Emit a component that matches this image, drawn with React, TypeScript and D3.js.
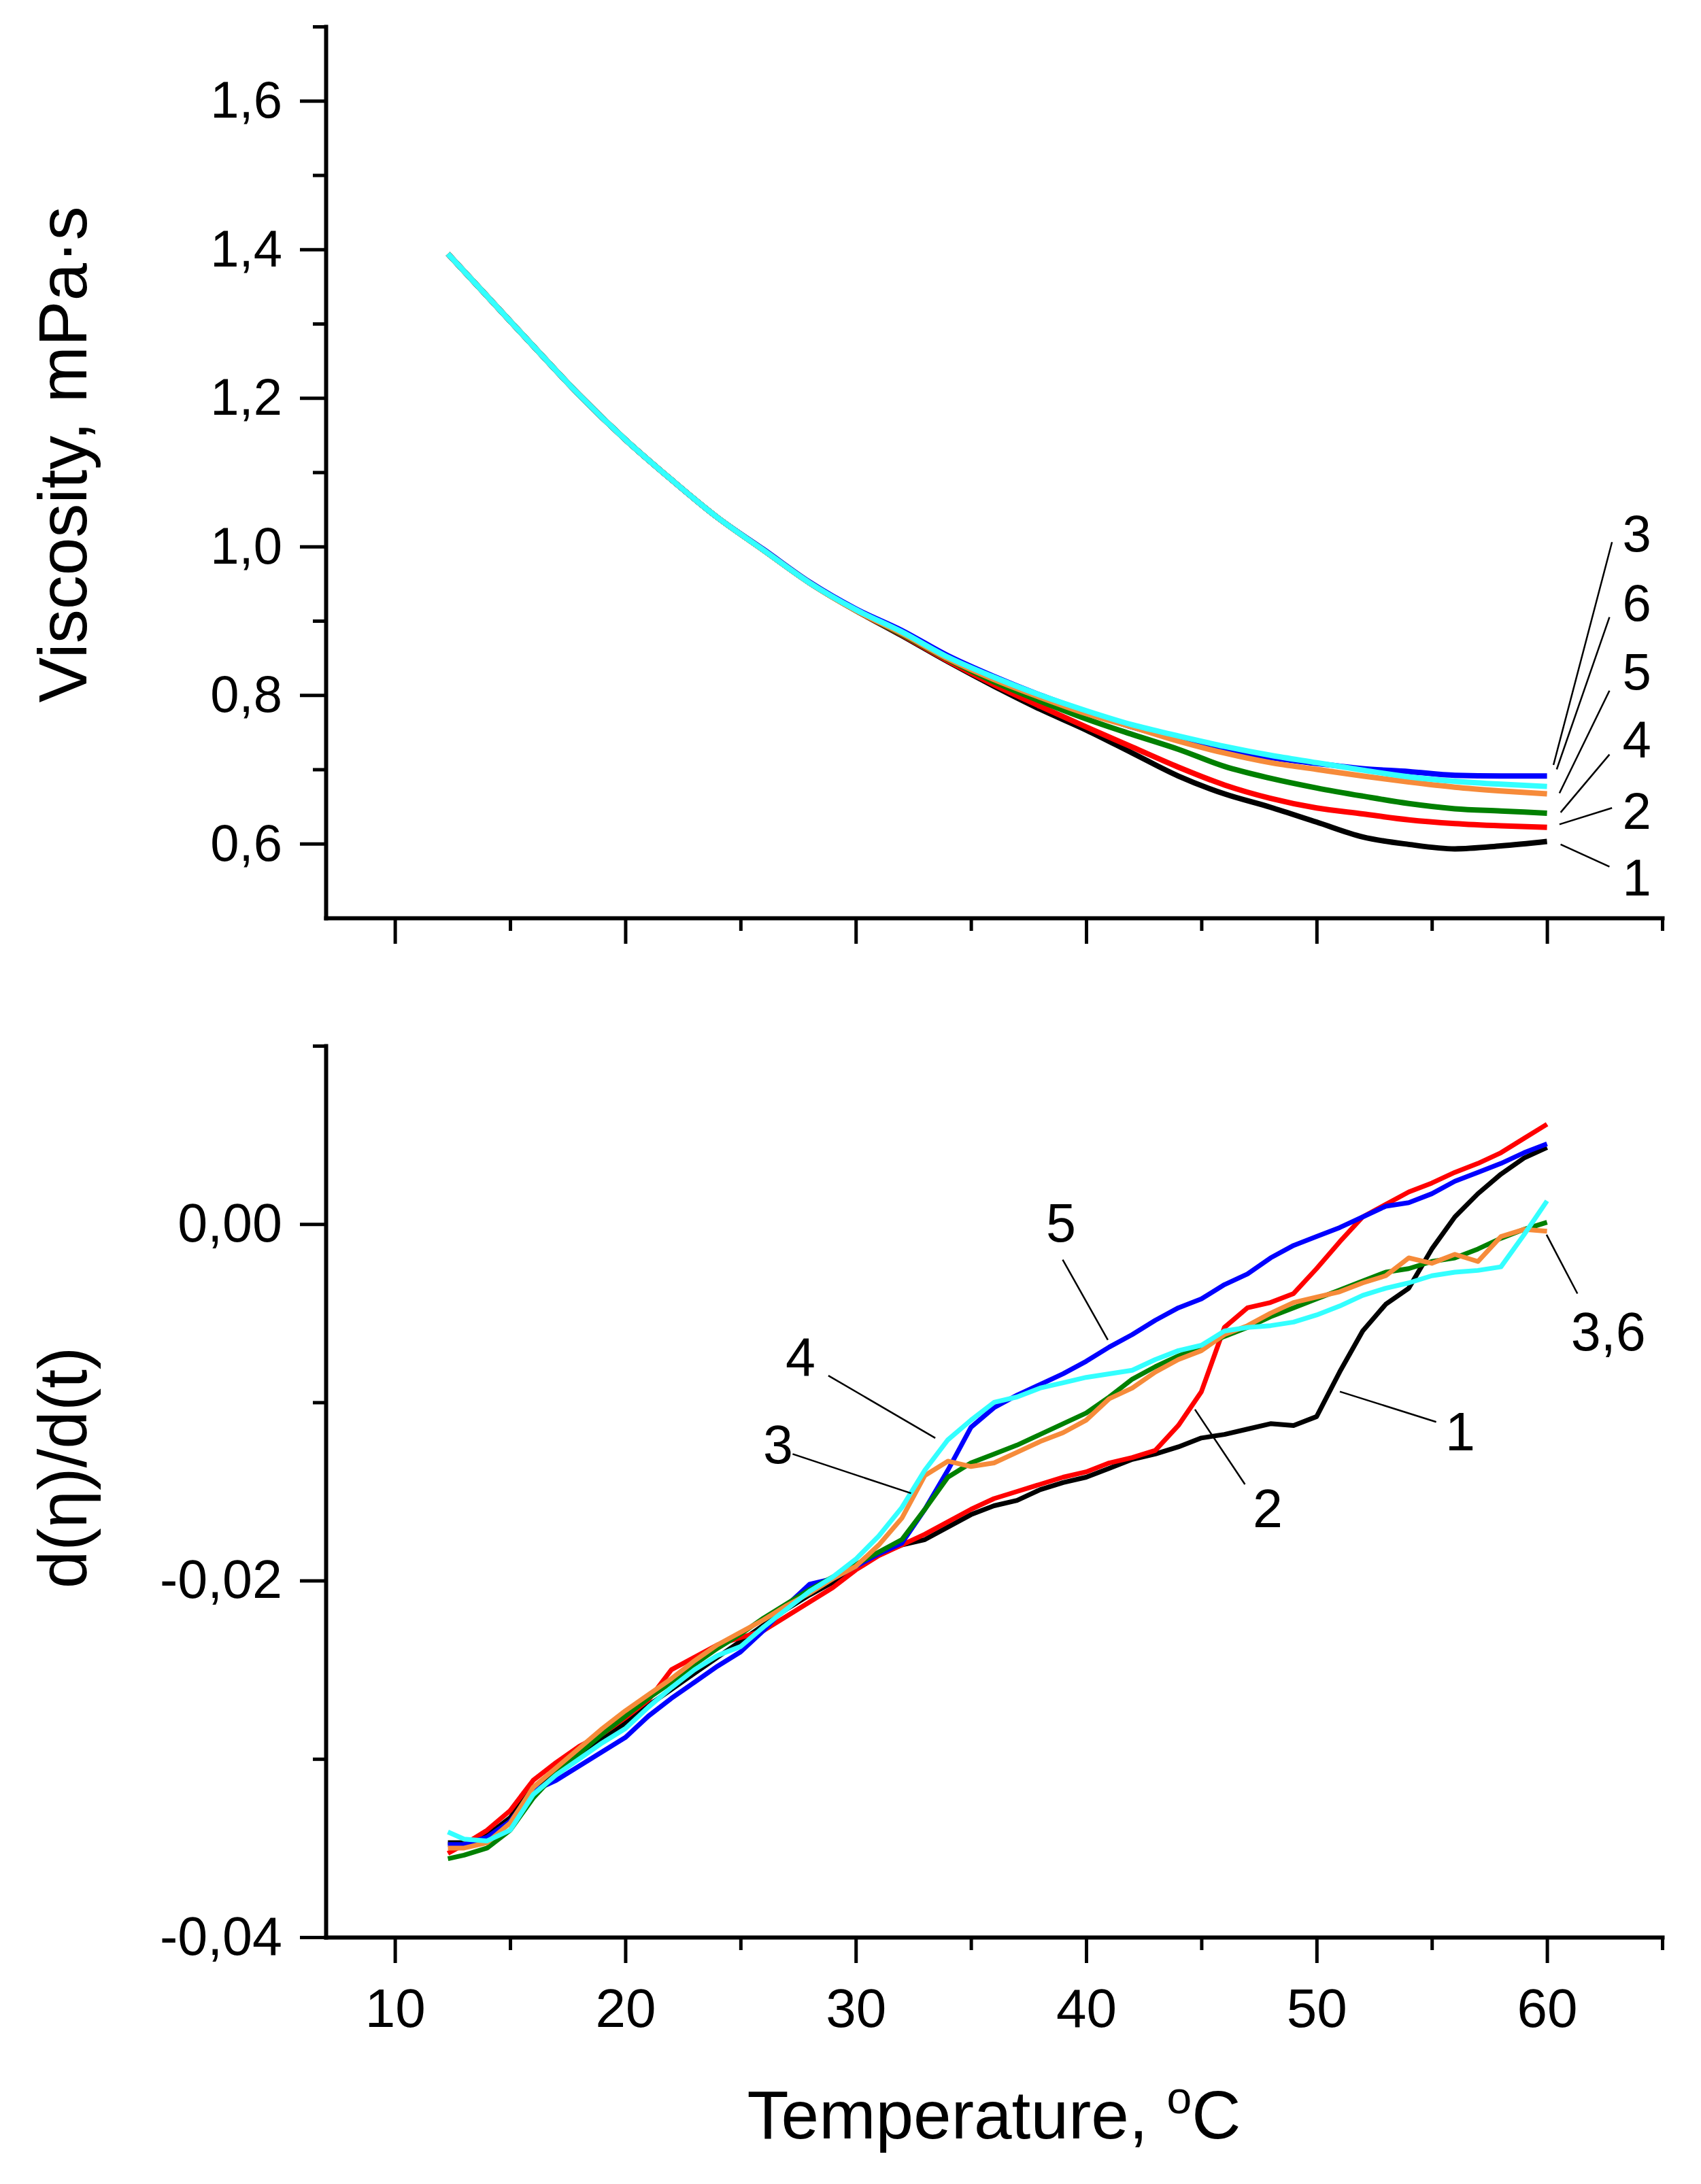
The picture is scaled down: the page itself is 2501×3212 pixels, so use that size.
import { useEffect, useRef } from "react";
import * as d3 from "d3";

// ---- top panel: viscosity vs temperature ----
const tempTop = [12.3, 14, 16, 18, 20, 22, 24, 26, 28, 30, 32, 34, 36, 38, 40, 42, 44, 46, 48, 50, 52, 54, 56, 58, 60];

const visc1 = [1.394, 1.337, 1.27, 1.204, 1.144, 1.09, 1.039, 0.995, 0.951, 0.914, 0.88, 0.845, 0.812, 0.781, 0.753, 0.722, 0.691, 0.667, 0.649, 0.629, 0.609, 0.599, 0.593, 0.597, 0.603];
const visc2 = [1.394, 1.337, 1.27, 1.204, 1.144, 1.09, 1.039, 0.995, 0.951, 0.914, 0.881, 0.846, 0.814, 0.785, 0.757, 0.73, 0.703, 0.679, 0.661, 0.648, 0.64, 0.632, 0.627, 0.624, 0.622];
const visc3 = [1.394, 1.337, 1.27, 1.204, 1.144, 1.09, 1.039, 0.996, 0.952, 0.916, 0.887, 0.853, 0.825, 0.8, 0.778, 0.757, 0.741, 0.727, 0.716, 0.708, 0.701, 0.697, 0.692, 0.691, 0.691];
const visc4 = [1.394, 1.337, 1.27, 1.204, 1.144, 1.09, 1.039, 0.995, 0.951, 0.914, 0.882, 0.848, 0.818, 0.792, 0.768, 0.747, 0.727, 0.704, 0.688, 0.675, 0.664, 0.654, 0.647, 0.644, 0.641];
const visc5 = [1.394, 1.337, 1.27, 1.204, 1.144, 1.09, 1.039, 0.995, 0.951, 0.914, 0.883, 0.849, 0.821, 0.797, 0.775, 0.757, 0.738, 0.722, 0.709, 0.7, 0.691, 0.683, 0.676, 0.671, 0.667];
const visc6 = [1.394, 1.337, 1.27, 1.204, 1.144, 1.09, 1.039, 0.995, 0.951, 0.915, 0.885, 0.851, 0.824, 0.8, 0.779, 0.76, 0.745, 0.731, 0.719, 0.709, 0.699, 0.69, 0.684, 0.68, 0.677];

// ---- bottom panel: d(eta)/d(t) ----
const tempDer = [12.3, 13, 14, 15, 16, 17, 18, 19, 20, 21, 22, 23, 24, 25, 26, 27, 28, 29, 30, 31, 32, 33, 34, 35, 36, 37, 38, 39, 40, 41, 42, 43, 44, 45, 46, 47, 48, 49, 50, 51, 52, 53, 54, 55, 56, 57, 58, 59, 60];

const der1 = [-0.0347, -0.0347, -0.0343, -0.0333, -0.0316, -0.0307, -0.0298, -0.0289, -0.028, -0.027, -0.0261, -0.0252, -0.0243, -0.0234, -0.0225, -0.0216, -0.0208, -0.0201, -0.0193, -0.0185, -0.018, -0.0177, -0.017, -0.0163, -0.0158, -0.0155, -0.0149, -0.0145, -0.0142, -0.0137, -0.0132, -0.0129, -0.0125, -0.012, -0.0118, -0.0115, -0.0112, -0.0113, -0.0108, -0.0083, -0.006, -0.0045, -0.0036, -0.0014, 0.0004, 0.0017, 0.0028, 0.0037, 0.0043];
const der2 = [-0.0353, -0.0348, -0.034, -0.0329, -0.0312, -0.0302, -0.0293, -0.0286, -0.0277, -0.0267, -0.025, -0.0243, -0.0236, -0.0232, -0.0228, -0.022, -0.0212, -0.0204, -0.0194, -0.0186, -0.018, -0.0174, -0.0167, -0.016, -0.0154, -0.015, -0.0146, -0.0142, -0.0139, -0.0134, -0.0131, -0.0127, -0.0113, -0.0094, -0.0058, -0.0047, -0.0044, -0.0039, -0.0025, -0.001, 0.0004, 0.0011, 0.0018, 0.0023, 0.0029, 0.0034, 0.004, 0.0048, 0.0056];
const der3 = [-0.0348, -0.0348, -0.0344, -0.0335, -0.0318, -0.0312, -0.0304, -0.0296, -0.0288, -0.0276, -0.0266, -0.0257, -0.0248, -0.024, -0.0228, -0.0214, -0.0202, -0.0199, -0.0192, -0.0185, -0.0179, -0.016, -0.0138, -0.0114, -0.0103, -0.0096, -0.009, -0.0084, -0.0077, -0.0069, -0.0062, -0.0054, -0.0047, -0.0042, -0.0034, -0.0028, -0.0019, -0.0012, -0.0007, -0.0002, 0.0004, 0.001, 0.0012, 0.0017, 0.0024, 0.0029, 0.0034, 0.004, 0.0045];
const der4 = [-0.0356, -0.0354, -0.035, -0.034, -0.0322, -0.0308, -0.0297, -0.0286, -0.0276, -0.0266, -0.0257, -0.0247, -0.0238, -0.023, -0.0221, -0.0213, -0.0205, -0.0198, -0.0191, -0.0184, -0.0177, -0.016, -0.0142, -0.0134, -0.0129, -0.0124, -0.0118, -0.0112, -0.0106, -0.0097, -0.0087, -0.008, -0.0074, -0.0069, -0.0063, -0.0058, -0.0052, -0.0047, -0.0042, -0.0037, -0.0032, -0.0027, -0.0025, -0.0021, -0.0019, -0.0014, -0.0008, -0.0003, 0.0001];
const der5 = [-0.035, -0.035, -0.0347, -0.0336, -0.0316, -0.0305, -0.0294, -0.0283, -0.0273, -0.0264, -0.0255, -0.0245, -0.0236, -0.0229, -0.0222, -0.0214, -0.0207, -0.0199, -0.0192, -0.018, -0.0165, -0.0141, -0.0133, -0.0136, -0.0134, -0.0128, -0.0122, -0.0117, -0.011, -0.0098, -0.0092, -0.0083, -0.0076, -0.0071, -0.0062, -0.0057, -0.005, -0.0044, -0.0041, -0.0038, -0.0033, -0.0029, -0.0019, -0.0022, -0.0017, -0.0021, -0.0007, -0.0003, -0.0004];
const der6 = [-0.0341, -0.0345, -0.0346, -0.034, -0.032, -0.0309, -0.03, -0.0291, -0.0283, -0.0271, -0.026, -0.025, -0.0242, -0.0237, -0.0226, -0.0216, -0.0206, -0.0198, -0.0188, -0.0175, -0.0159, -0.0138, -0.0121, -0.011, -0.01, -0.0097, -0.0092, -0.0089, -0.0086, -0.0084, -0.0082, -0.0076, -0.0071, -0.0068, -0.006, -0.0058, -0.0057, -0.0055, -0.0051, -0.0046, -0.004, -0.0036, -0.0033, -0.0029, -0.0027, -0.0026, -0.0024, -0.0006, 0.0013];

const colors = ["#000000", "#ff0000", "#0000ff", "#008000", "#f68b3a", "#33ffff"];

// ticks
const xMajor = [10, 20, 30, 40, 50, 60];
const xMinor = [15, 25, 35, 45, 55, 65];
const viscMajor = [0.6, 0.8, 1.0, 1.2, 1.4, 1.6];
const viscMinor = [0.7, 0.9, 1.1, 1.3, 1.5, 1.7];
const derMajor = [-0.04, -0.02, 0.0];
const derMinor = [-0.03, -0.01, 0.01];

// annotations: [label, T, value] (text baseline) and leader lines [T1, v1, T2, v2]
const topLabels: [string, number, number][] = [
  ["3", 63.9, 0.993],
  ["6", 63.9, 0.9],
  ["5", 63.9, 0.808],
  ["4", 63.9, 0.716],
  ["2", 63.9, 0.62],
  ["1", 63.9, 0.53],
];
const topLeaders: [number, number, number, number][] = [
  [62.82, 1.006, 60.28, 0.706],
  [62.71, 0.905, 60.42, 0.7],
  [62.71, 0.806, 60.54, 0.668],
  [62.71, 0.72, 60.59, 0.642],
  [62.82, 0.648, 60.54, 0.626],
  [62.71, 0.569, 60.59, 0.599],
];
const botLabels: [string, number, number, string][] = [
  ["5", 38.91, -0.001, "middle"],
  ["4", 27.6, -0.0085, "middle"],
  ["3", 26.63, -0.0134, "middle"],
  ["2", 47.88, -0.017, "middle"],
  ["1", 56.23, -0.0127, "middle"],
  ["3,6", 61.04, -0.0071, "start"],
];
const botLeaders: [number, number, number, number][] = [
  [38.98, -0.002, 40.94, -0.0065],
  [28.81, -0.0085, 33.45, -0.012],
  [27.26, -0.0129, 32.4, -0.0151],
  [46.89, -0.0146, 44.72, -0.0104],
  [55.19, -0.0111, 51.01, -0.0094],
  [61.32, -0.0039, 59.98, -0.0006],
];

const FONT = "'Liberation Sans', Arial, Helvetica, sans-serif";

const App = () => {
  const svgRef = useRef<SVGSVGElement | null>(null);

  useEffect(() => {
    if (!svgRef.current) return;
    const W = 2501;
    const H = 3212;
    const svg = d3.select(svgRef.current);
    svg.selectAll("*").remove();
    svg.append("rect").attr("width", W).attr("height", H).attr("fill", "#fff");

    const x = d3.scaleLinear().domain([7, 65]).range([479, 2444]);
    const yTop = d3.scaleLinear().domain([0.5, 1.7]).range([1350, 39]);
    const yBot = d3.scaleLinear().domain([-0.04, 0.01]).range([2849, 1538]);

    const comma = (fmt: string) => (d: d3.NumberValue) =>
      d3.format(fmt)(d as number).replace(".", ",").replace("−", "-");

    const style = (g: d3.Selection<SVGGElement, unknown, null, undefined>, fs: number) => {
      g.attr("font-family", FONT).attr("font-size", fs);
      g.select(".domain").attr("stroke", "#000").attr("stroke-width", 6).attr("stroke-linecap", "square");
      g.selectAll(".tick line").attr("stroke", "#000").attr("stroke-width", 5);
      g.selectAll(".tick text").attr("fill", "#000");
    };

    const drawPanel = (
      y: d3.ScaleLinear<number, number>,
      yMajor: number[],
      yMinor: number[],
      yFmt: (d: d3.NumberValue) => string,
      yFont: number,
      xLabels: boolean
    ) => {
      const bottom = y.range()[0];
      // minor ticks first
      const gxm = svg.append("g").attr("transform", `translate(0,${bottom})`)
        .call(d3.axisBottom(x).tickValues(xMinor).tickSize(19).tickSizeOuter(0).tickFormat(() => ""));
      gxm.select(".domain").remove();
      style(gxm, 78);
      const gym = svg.append("g").attr("transform", `translate(${x.range()[0]},0)`)
        .call(d3.axisLeft(y).tickValues(yMinor).tickSize(19).tickSizeOuter(0).tickFormat(() => ""));
      gym.select(".domain").remove();
      style(gym, 78);

      const gx = svg.append("g").attr("transform", `translate(0,${bottom})`)
        .call(
          d3.axisBottom(x).tickValues(xMajor).tickSize(38).tickSizeOuter(0).tickPadding(37)
            .tickFormat(xLabels ? d3.format("d") : () => "")
        );
      style(gx, 80);
      const gy = svg.append("g").attr("transform", `translate(${x.range()[0]},0)`)
        .call(d3.axisLeft(y).tickValues(yMajor).tickSize(38).tickSizeOuter(0).tickPadding(26).tickFormat(yFmt));
      style(gy, yFont);
    };

    drawPanel(yTop, viscMajor, viscMinor, comma(".1f"), 76, false);
    drawPanel(yBot, derMajor, derMinor, comma(".2f"), 79, true);

    // lines
    const topSeries = [visc1, visc2, visc3, visc4, visc5, visc6];
    const botSeries = [der1, der2, der3, der4, der5, der6];

    const lineTop = d3.line<[number, number]>()
      .x((d) => x(d[0]))
      .y((d) => yTop(d[1]))
      .curve(d3.curveMonotoneX);
    const lineBot = d3.line<[number, number]>()
      .x((d) => x(d[0]))
      .y((d) => yBot(d[1]))
      .curve(d3.curveLinear);

    topSeries.forEach((vals, i) => {
      svg.append("path")
        .datum(tempTop.map((t, k) => [t, vals[k]] as [number, number]))
        .attr("fill", "none")
        .attr("stroke", colors[i])
        .attr("stroke-width", 8)
        .attr("stroke-linejoin", "round")
        .attr("d", lineTop);
    });
    botSeries.forEach((vals, i) => {
      svg.append("path")
        .datum(tempDer.map((t, k) => [t, vals[k]] as [number, number]))
        .attr("fill", "none")
        .attr("stroke", colors[i])
        .attr("stroke-width", 7)
        .attr("stroke-linejoin", "round")
        .attr("d", lineBot);
    });

    // annotations
    const ann = svg.append("g").attr("font-family", FONT).attr("fill", "#000");
    topLeaders.forEach(([t1, v1, t2, v2]) => {
      ann.append("line")
        .attr("x1", x(t1)).attr("y1", yTop(v1))
        .attr("x2", x(t2)).attr("y2", yTop(v2))
        .attr("stroke", "#000").attr("stroke-width", 2.5);
    });
    topLabels.forEach(([s, t, v]) => {
      ann.append("text").attr("x", x(t)).attr("y", yTop(v))
        .attr("text-anchor", "middle").attr("font-size", 76).text(s);
    });
    botLeaders.forEach(([t1, v1, t2, v2]) => {
      ann.append("line")
        .attr("x1", x(t1)).attr("y1", yBot(v1))
        .attr("x2", x(t2)).attr("y2", yBot(v2))
        .attr("stroke", "#000").attr("stroke-width", 2.5);
    });
    botLabels.forEach(([s, t, v, anchor]) => {
      ann.append("text").attr("x", x(t)).attr("y", yBot(v))
        .attr("text-anchor", anchor).attr("font-size", 79).text(s);
    });

    // axis titles
    const titles = svg.append("g").attr("font-family", FONT).attr("fill", "#000").attr("font-size", 100);
    titles.append("text")
      .attr("transform", `translate(127,${(yTop(1.7) + yTop(0.5)) / 2 - 26}) rotate(-90)`)
      .attr("text-anchor", "middle")
      .text("Viscosity, mPa·s");
    titles.append("text")
      .attr("transform", `translate(127,${(yBot(0.01) + yBot(-0.04)) / 2 - 35}) rotate(-90)`)
      .attr("text-anchor", "middle")
      .text("d(η)/d(t)");
    const xt = titles.append("text")
      .attr("x", (x.range()[0] + x.range()[1]) / 2)
      .attr("y", 3145)
      .attr("text-anchor", "middle");
    xt.append("tspan").text("Temperature, ");
    xt.append("tspan").attr("font-size", 66).attr("dy", -37).text("o");
    xt.append("tspan").attr("dy", 37).text("C");
  }, []);

  return (
    <svg
      ref={svgRef}
      width={2501}
      height={3212}
      style={{ position: "absolute", left: 0, top: 0, display: "block" }}
    />
  );
};

export default App;
